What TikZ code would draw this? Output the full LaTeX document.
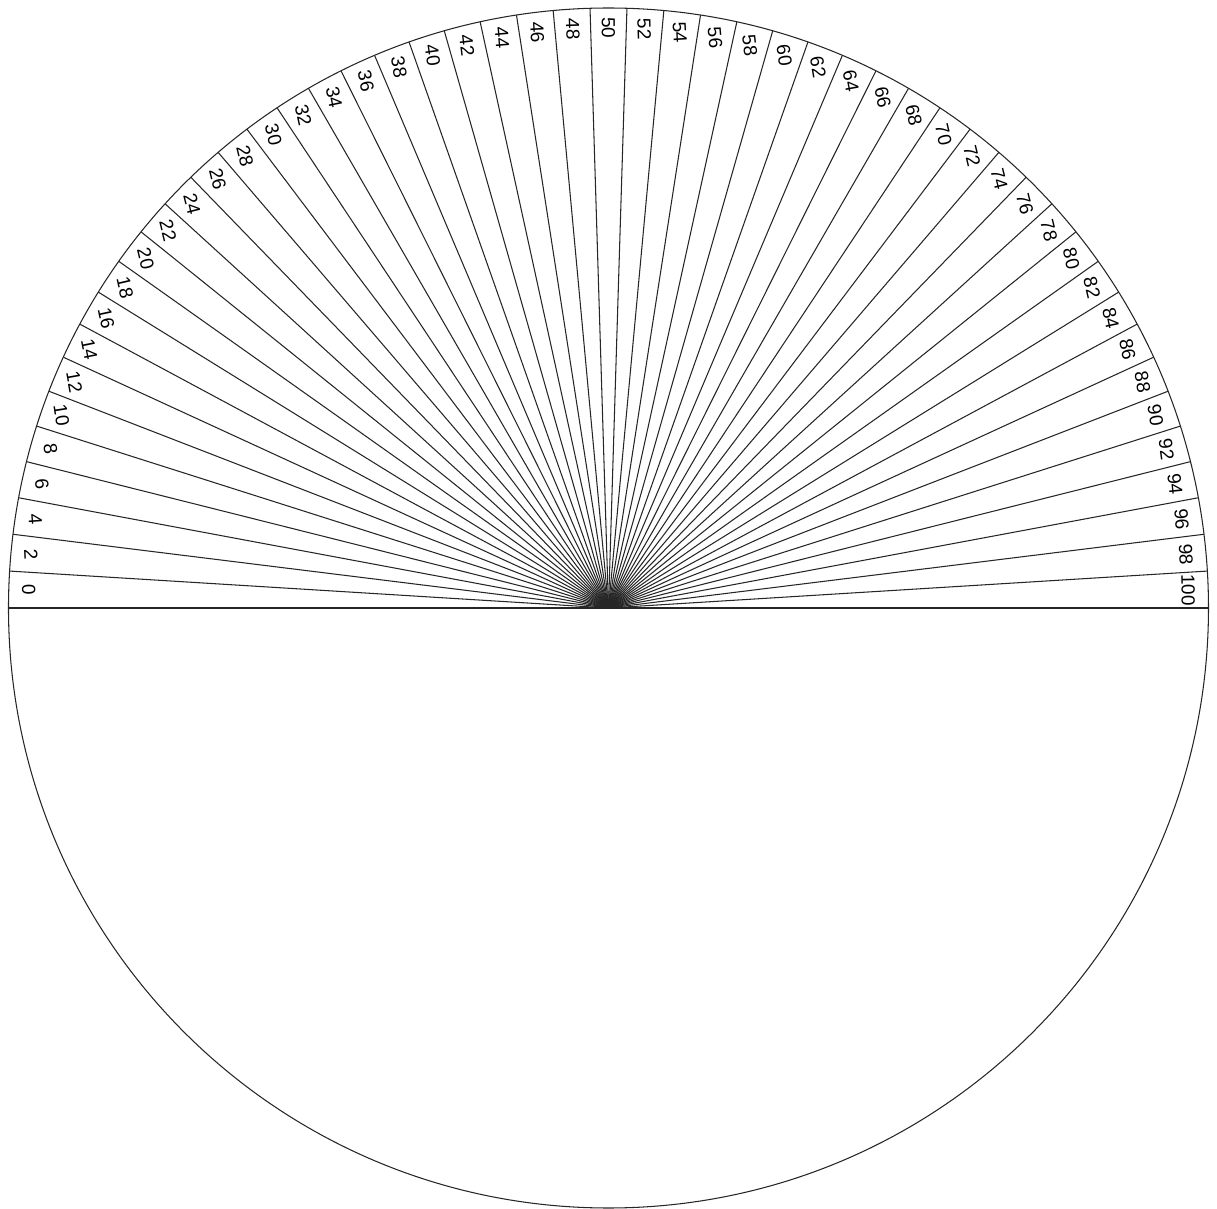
\documentclass[tikz,border=0pt]{standalone}
\usepackage{fontspec}
\setmainfont{Liberation Sans}
\begin{document}
\begin{tikzpicture}[
  spoke/.style={line width=0.3pt, black!85},
  ticklabel/.style={font=\fontsize{5.4}{6}\selectfont, inner sep=0pt}
]
  \useasboundingbox (-6.085,-6.01) rectangle (6.085,6.08);
  \coordinate (c) at (0,0);

  % Draw the outer circle and the horizontal diameter
  \draw [spoke] (c) circle (6);
  \coordinate (w) at (180:6);
  \coordinate (e) at (0:6);
  \draw [spoke] (w) -- (e);

  % Draw the spokes of the upper half (51 wedges)
  \foreach \k in {1,...,50} {
    \coordinate (rim\k) at ({180-\k*180/51}:6);
    \draw [spoke] (c) -- (rim\k);
  }

  % Put the labels 0 to 100 into the wedges
  \foreach \k in {0,...,50} {
    \pgfmathsetmacro{\ang}{180-(\k+0.5)*180/51}
    \pgfmathtruncatemacro{\val}{2*\k}
    \pgfmathsetmacro{\rot}{-90+14*abs(sin(2*\ang))}
    \node [ticklabel, rotate=\rot] (lab\k) at (\ang:5.80) {\val};
  }
\end{tikzpicture}
\end{document}
